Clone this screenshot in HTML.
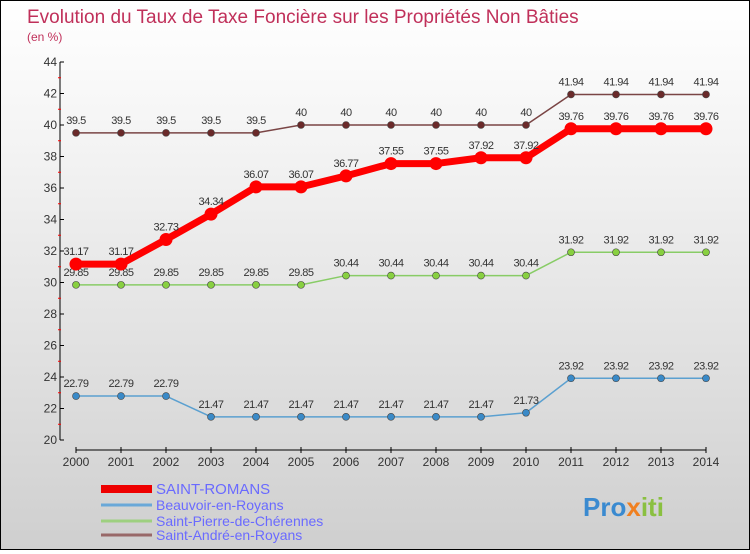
<!DOCTYPE html>
<html><head><meta charset="utf-8"><style>
html,body{margin:0;padding:0}
body{width:750px;height:550px;overflow:hidden;font-family:"Liberation Sans",sans-serif}
#wrap{position:relative;width:748px;height:548px;border:1px solid #000;background:linear-gradient(#ffffff,#f4f4f4 25%,#cfcfcf)}
</style></head><body>
<div id="wrap">
<svg id="chart" width="748" height="548"></svg>
</div>
<script>
const years=[2000,2001,2002,2003,2004,2005,2006,2007,2008,2009,2010,2011,2012,2013,2014];
const yTicks=[20,22,24,26,28,30,32,34,36,38,40,42,44];
const seriesNames=["SAINT-ROMANS","Beauvoir-en-Royans","Saint-Pierre-de-Chérennes","Saint-André-en-Royans"];
const saintRomans=[31.17,31.17,32.73,34.34,36.07,36.07,36.77,37.55,37.55,37.92,37.92,39.76,39.76,39.76,39.76];
const beauvoir=[22.79,22.79,22.79,21.47,21.47,21.47,21.47,21.47,21.47,21.47,21.73,23.92,23.92,23.92,23.92];
const saintPierre=[29.85,29.85,29.85,29.85,29.85,29.85,30.44,30.44,30.44,30.44,30.44,31.92,31.92,31.92,31.92];
const saintAndre=[39.5,39.5,39.5,39.5,39.5,40,40,40,40,40,40,41.94,41.94,41.94,41.94];

const NS="http://www.w3.org/2000/svg";
const svg=document.getElementById('chart');
const X=i=>75+i*45;
const Y=v=>439-(v-20)*15.75;
function mk(t,a,p){const e=document.createElementNS(NS,t);for(const k in a)e.setAttribute(k,a[k]);(p||svg).appendChild(e);return e;}
let t=mk('text',{x:26,y:22,'font-size':19,fill:'#c0305a'});t.textContent="Evolution du Taux de Taxe Foncière sur les Propriétés Non Bâties";


t=mk('text',{x:26,y:40,'font-size':12,fill:'#c0305a'});t.textContent="(en %)";


// axes
let ax=mk('line',{x1:59,y1:Y(44),x2:59,y2:Y(20),stroke:'#000'});


yTicks.forEach((v,i)=>{
 mk('line',{x1:59,x2:63,y1:Y(v),y2:Y(v),stroke:'#000'});
 if(i<yTicks.length-1)mk('line',{x1:57,x2:60,y1:Y(v+1),y2:Y(v+1),stroke:'#f00'});
 const l=mk('text',{x:56,y:Y(v)+4,'font-size':12,'text-anchor':'end',fill:'#333'});l.textContent=v;
 
 
});
ax=mk('line',{x1:X(0),y1:449,x2:X(14),y2:449,stroke:'#000'});


years.forEach((yr,i)=>{
 mk('line',{x1:X(i),x2:X(i),y1:446,y2:452,stroke:'#000'});
 const l=mk('text',{x:X(i),y:465,'font-size':12,'text-anchor':'middle',fill:'#333'});l.textContent=yr;
 
 
});
function series(vals,color,w,r,dot,name){
 const g=mk('g',{});
 
 
 mk('polyline',{points:vals.map((v,i)=>X(i)+','+Y(v)).join(' '),fill:'none',stroke:color,'stroke-width':w,'stroke-linejoin':'round'},g);
 vals.forEach((v,i)=>{
  const c=mk('circle',{cx:X(i),cy:Y(v),r:r,fill:dot,stroke:'#444','stroke-width':r>5?0:0.6},g);
  
  
  const l=mk('text',{x:X(i),y:Y(v)-9,'font-size':11,'text-anchor':'middle',fill:'#333','letter-spacing':'-0.5'},g);l.textContent=v;
  
  
 });
}
series(saintAndre,'#7a4545',1.5,3.5,'#6a2a2a','saint-andre-series');
series(saintPierre,'#88cc66',1.5,3.5,'#88d040','saint-pierre-series');
series(beauvoir,'#5ba0d0',1.5,3.5,'#3a8ac8','beauvoir-series');
series(saintRomans,'#ff0000',7,6.5,'#ff0000','saint-romans-series');
// legend
const lc=['#ee0000','#6aa8d8','#9ed080','#986868'],lw=[8,3,3,3],ly=[492,508,524,538];
seriesNames.forEach((n,i)=>{
 const g=mk('g',{});
 
 
 mk('line',{x1:100,x2:151,y1:ly[i]-4,y2:ly[i]-4,stroke:lc[i],'stroke-width':lw[i]},g);
 const l=mk('text',{x:155,y:ly[i]+1,'font-size':i==0?15:14,fill:'#6a6aff'},g);l.textContent=n;
});
t=mk('text',{x:582,y:515,'font-size':26,'font-weight':'bold',fill:'#3a8ad0'});t.innerHTML='Pro<tspan fill="#f08020">x</tspan><tspan fill="#8ac040">iti</tspan>';


</script>
</body></html>
